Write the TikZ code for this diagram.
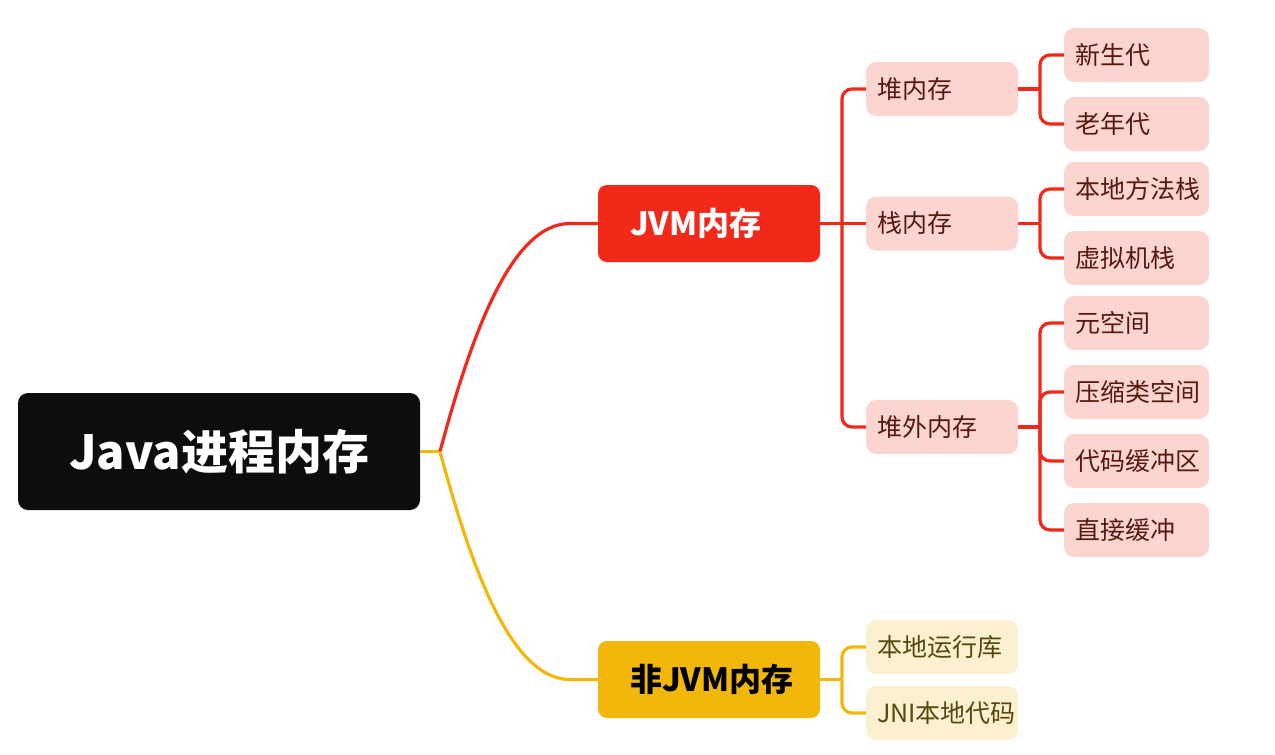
\documentclass[tikz,border=0pt]{standalone}
\usepackage{fontspec}
\setmainfont{Noto Sans CJK SC}
\definecolor{rootblack}{HTML}{0D0D0D}
\definecolor{jvmred}{HTML}{F22819}
\definecolor{nonyellow}{HTML}{F1B80B}
\definecolor{pinkfill}{HTML}{FCD5D1}
\definecolor{pinktext}{HTML}{561A10}
\definecolor{creamfill}{HTML}{FBF0CF}
\definecolor{creamtext}{HTML}{5A4710}
\begin{document}
\begin{tikzpicture}[x=1pt,y=-1pt,
  rootbox/.style={fill=rootblack, rounded corners=10pt, minimum width=402pt,
    minimum height=117pt, text=white, font=\fontsize{47}{56}\selectfont\bfseries},
  branchbox/.style={rounded corners=9pt, minimum height=77pt, text width=158pt,
    inner xsep=32pt, align=left, font=\fontsize{32}{38}\selectfont\bfseries},
  leafbox/.style={rounded corners=10pt, minimum height=54pt, inner xsep=11pt,
    align=left, font=\fontsize{25}{29}\selectfont},
  midleaf/.style={leafbox, text width=130pt},
  endleaf/.style={leafbox, text width=123pt},
  pinkleaf/.style={fill=pinkfill, text=pinktext},
  creamleaf/.style={fill=creamfill, text=creamtext},
  link/.style={line width=3.2pt, rounded corners=10pt}
]
\path[use as bounding box] (0,0) rectangle (1275,755);

% root and main branches
\node[rootbox] (root) at (219,451.5) {Java进程内存};
\node[branchbox, fill=jvmred, text=white] (jvm) at (709,223.5) {JVM内存};
\node[branchbox, fill=nonyellow, text=black] (nonjvm) at (709,679.5) {非JVM内存};

% second level
\node[midleaf, pinkleaf] (heap) at (942,89) {堆内存};
\node[midleaf, pinkleaf] (stack) at (942,223.5) {栈内存};
\node[midleaf, pinkleaf] (offheap) at (942,427) {堆外内存};
\node[midleaf, creamleaf] (nrl) at (942,647) {本地运行库};
\node[midleaf, creamleaf] (jni) at (942,713) {JNI本地代码};

% third level
\node[endleaf, pinkleaf] (young) at (1136.5,55) {新生代};
\node[endleaf, pinkleaf] (old) at (1136.5,124) {老年代};
\node[endleaf, pinkleaf] (nms) at (1136.5,189) {本地方法栈};
\node[endleaf, pinkleaf] (vms) at (1136.5,258) {虚拟机栈};
\node[endleaf, pinkleaf] (meta) at (1136.5,323) {元空间};
\node[endleaf, pinkleaf] (ccs) at (1136.5,392) {压缩类空间};
\node[endleaf, pinkleaf] (code) at (1136.5,461) {代码缓冲区};
\node[endleaf, pinkleaf] (direct) at (1136.5,530) {直接缓冲};

% junction points
\coordinate (rj) at (440,451.5);
\coordinate (jj) at (842,223.5);
\coordinate (nj) at (842,679.5);
\coordinate (hj) at (1040,89);
\coordinate (sj) at (1040,223.5);
\coordinate (oj) at (1040,427);

% root connectors
\draw[link, nonyellow] (root.east) -- (rj);
\draw[line width=3.2pt, jvmred] (rj) .. controls (470,340) and (510,223.5) .. (570,223.5) -- (jvm.west);
\draw[line width=3.2pt, nonyellow] (rj) .. controls (470,563) and (510,679.5) .. (570,679.5) -- (nonjvm.west);

% JVM branch
\draw[link, jvmred] (jvm.east) -- (jj);
\draw[link, jvmred] (jj) |- (heap.west);
\draw[link, jvmred] (jj) -- (stack.west);
\draw[link, jvmred] (jj) |- (offheap.west);

\draw[link, jvmred] (heap.east) -- (hj);
\draw[link, jvmred] (hj) |- (young.west);
\draw[link, jvmred] (hj) |- (old.west);

\draw[link, jvmred] (stack.east) -- (sj);
\draw[link, jvmred] (sj) |- (nms.west);
\draw[link, jvmred] (sj) |- (vms.west);

\draw[link, jvmred] (offheap.east) -- (oj);
\draw[link, jvmred] (oj) |- (meta.west);
\draw[link, jvmred] (oj) |- (ccs.west);
\draw[link, jvmred] (oj) |- (code.west);
\draw[link, jvmred] (oj) |- (direct.west);

% non-JVM branch
\draw[link, nonyellow] (nonjvm.east) -- (nj);
\draw[link, nonyellow] (nj) |- (nrl.west);
\draw[link, nonyellow] (nj) |- (jni.west);
\end{tikzpicture}
\end{document}
